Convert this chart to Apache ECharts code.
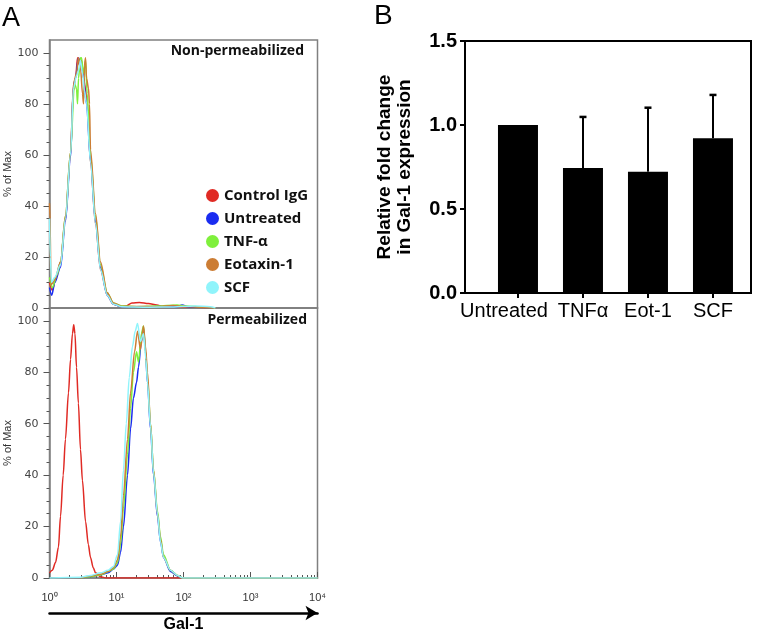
<!DOCTYPE html>
<html><head><meta charset="utf-8">
<script src="https://cdn.jsdelivr.net/npm/echarts@6/dist/echarts.min.js"></script>
<style>html,body{margin:0;padding:0;background:#fff}#c{width:762px;height:633px}</style>
</head><body><div id="c"></div><script>
// ---------- Panel A data (x = Gal-1 intensity, y = % of Max) ----------
const seriesNames = ['Control IgG', 'Untreated', 'TNF-α', 'Eotaxin-1', 'SCF'];
const seriesColors = ['#e02a24', '#1a2cf0', '#7ff03c', '#cc7d34', '#90f4fb'];

const nonPermCtrl = [[1,10],[1.1,7],[1.25,12],[1.46,18],[1.73,35],[2.06,60],[2.26,85],[2.45,90],[2.62,98],[2.8,95],[3.0,97],[3.22,90],[3.45,86],[3.65,79],[4.09,57],[4.86,33],[5.77,15],[7.27,5],[9.0,1.5],[11.5,0.5],[14,0.8],[17,2],[22,2.2],[30,1.8],[40,1.2],[50,0.5],[80,0.4],[150,0.3],[300,0]];
const nonPermUntr = [[1,8],[1.08,5],[1.2,10],[1.46,16],[1.73,34],[2.06,59],[2.28,87],[2.44,90],[2.71,98],[2.9,96],[3.11,93],[3.57,80],[4.09,58],[4.86,34],[5.77,16],[7.27,5],[9.0,1.5],[12,0.5],[20,0.3],[40,0.6],[80,0.5],[95,1.2],[120,0.4],[200,0.3],[300,0]];
const nonPermTnf = [[1,12],[1.1,8],[1.3,13],[1.46,18],[1.73,36],[2.06,61],[2.36,88],[2.53,86],[2.62,80],[2.71,90],[2.9,98],[3.0,98],[3.22,92],[3.45,97],[3.65,84],[4.09,60],[4.86,36],[5.77,17],[7.27,6],[9.0,2],[12,0.8],[20,0.5],[40,0.8],[80,1.2],[110,0.8],[200,0.3],[300,0]];
const nonPermEot = [[1,41],[1.02,35],[1.05,9],[1.2,11],[1.46,18],[1.73,36],[2.06,61],[2.28,88],[2.53,92],[2.71,98],[2.9,94],[3.11,84],[3.22,80],[3.33,95],[3.45,98],[3.57,90],[3.82,86],[3.95,80],[4.09,62],[4.86,37],[5.77,18],[7.27,6],[9.0,2],[12,0.6],[20,0.6],[40,0.5],[70,1],[100,0.6],[200,0.3],[300,0]];
const nonPermScf = [[1,35],[1.03,20],[1.07,10],[1.2,12],[1.46,17],[1.73,35],[2.06,60],[2.28,86],[2.53,91],[2.71,93],[2.9,97],[3.11,92],[3.33,85],[3.57,80],[4.09,57],[4.86,33],[5.77,15],[7.27,5],[9.0,1.5],[12,0.5],[30,0.3],[60,0.4],[150,0.8],[250,0.5],[300,0]];

const permCtrl = [[1,2],[1.1,3],[1.23,6],[1.36,12],[1.46,24],[1.6,40],[1.73,54],[1.92,72],[2.06,85],[2.2,95],[2.3,98.5],[2.4,95],[2.53,82],[2.7,68],[2.9,50],[3.1,38],[3.45,22],[3.8,13],[4.09,8],[4.5,4],[4.86,2],[5.77,0.5],[7,0],[100,0]];
const permUntr = [[2.9,0],[4.09,0.5],[5.77,1.2],[7.5,2],[9,3.5],[10.35,5],[11.5,10],[12.7,20],[14.6,40],[16.2,58],[17.9,70],[19.9,76],[21.3,82],[23.5,92],[25.3,97],[27.1,88],[29,76],[32.2,58],[35.7,40],[40.9,24],[45.4,14],[50.3,8],[64,2.5],[81.3,0.8],[96.6,0],[10000,0]];
const permTnf = [[2.9,0],[4.09,0.5],[5.77,1.2],[7.5,2.5],[9,3.5],[10.35,6],[11.5,13],[12.7,27],[14.6,48],[16.2,66],[17.9,80],[19.9,88],[21.3,84],[23.5,95],[25.3,98],[27.1,88],[29,78],[32.2,60],[35.7,42],[40.9,26],[45.4,16],[50.3,9],[64,3],[81.3,1],[96.6,0],[10000,0]];
const permEot = [[2.9,0],[4.09,0.8],[5.77,1.5],[7.5,2.5],[9,4],[10.35,7],[11.5,16],[12.7,32],[14.6,54],[16.2,72],[18.6,88],[20.6,96],[22.8,89],[25.3,98],[27.1,90],[29,80],[32.2,60],[35.7,42],[40.9,25],[45.4,15],[50.3,8],[64,3],[81.3,1],[96.6,0],[10000,0]];
const permScf = [[1,0],[2.9,0.3],[4.09,1],[5.77,2],[7.5,3],[9,4.5],[10.35,9],[11.5,22],[12.7,42],[14,60],[15.5,78],[17.3,90],[19,96],[20.6,99],[22.8,92],[25.3,95],[27.5,85],[29,76],[32.2,59],[35.7,41],[40.9,25],[45.4,14],[50.3,8],[64,3],[81.3,1],[96.6,0],[10000,0]];

const yTickValuesA = [0, 20, 40, 60, 80, 100];
const yMinorValuesA = [5,10,15,25,30,35,45,50,55,65,70,75,85,90,95];

// ---------- Panel B data ----------
const categoriesB = ['Untreated', 'TNFα', 'Eot-1', 'SCF'];
const meansB = [1.0, 0.744, 0.722, 0.921];
const errorsB = [0, 0.304, 0.381, 0.258];
const yTicksB = [0.0, 0.5, 1.0, 1.5];

// ---------- build ----------
const chart = echarts.init(document.getElementById('c'), null, {renderer: 'canvas'});
const gray = '#808080';
const fA = "'DejaVu Sans', Verdana, sans-serif";
const fB = "'Liberation Sans', Arial, sans-serif";
const fC = "'Open Sans', Lato, sans-serif";

const minorLogTicks = [];
for (let n = 0; n < 4; n++) for (let k = 2; k <= 9; k++) minorLogTicks.push(Math.log10(k * Math.pow(10, n)));

function lineSeries(name, color, data, xi, yi) {
  return {
    name, type: 'line', data, xAxisIndex: xi, yAxisIndex: yi,
    showSymbol: false, symbol: 'none', smooth: 0.3, smoothMonotone: 'x',
    lineStyle: {color, width: 1.5}, itemStyle: {color}, z: 3
  };
}

const topData = [nonPermCtrl, nonPermUntr, nonPermTnf, nonPermEot, nonPermScf];
const botData = [permCtrl, permUntr, permTnf, permEot, permScf];

const series = [];
topData.forEach((d, i) => series.push(lineSeries(seriesNames[i], seriesColors[i], d, 0, 0)));
botData.forEach((d, i) => series.push(lineSeries(seriesNames[i], seriesColors[i], d, 1, 2)));

series.push({
  type: 'bar', name: 'fold', xAxisIndex: 4, yAxisIndex: 4, barWidth: 40,
  itemStyle: {color: '#000'},
  data: meansB.map((v, i) => [i, v])
});
series.push({
  type: 'custom', name: 'err', xAxisIndex: 4, yAxisIndex: 4, z: 5,
  data: meansB.map((v, i) => [i, v, v + errorsB[i]]),
  encode: {x: 0, y: [1, 2]},
  renderItem(params, api) {
    const x = api.value(0), y0 = api.value(1), y1 = api.value(2);
    if (y1 <= y0) return null;
    const p0 = api.coord([x, y0]);
    const p1 = api.coord([x, y1]);
    return {type: 'group', children: [
      {type: 'line', shape: {x1: p0[0], y1: p0[1], x2: p1[0], y2: p1[1]}, style: {stroke: '#000', lineWidth: 2}},
      {type: 'line', shape: {x1: p1[0] - 3.5, y1: p1[1], x2: p1[0] + 3.5, y2: p1[1]}, style: {stroke: '#000', lineWidth: 2.5}}
    ]};
  }
});

function mainYA(grid) {
  return {
    gridIndex: grid, type: 'value', min: 0, max: 105, position: 'left',
    name: '% of Max', nameLocation: 'middle', nameGap: 33,
    nameTextStyle: {fontSize: 11, fontFamily: fB, color: '#333'},
    axisLine: {show: true, onZero: false, lineStyle: {color: gray, width: 1.5}},
    axisTick: {show: true, inside: false, length: 6, customValues: yTickValuesA, lineStyle: {color: '#555', width: 1}},
    axisLabel: {customValues: yTickValuesA, margin: 11, fontSize: 11, fontFamily: fA, color: '#444'},
    splitLine: {show: false}
  };
}
function minorYA(grid) {
  return {
    gridIndex: grid, type: 'value', min: 0, max: 105, position: 'left',
    axisLine: {show: false, onZero: false},
    axisTick: {show: true, inside: false, length: 3, customValues: yMinorValuesA, lineStyle: {color: '#555', width: 1}},
    axisLabel: {show: false}, splitLine: {show: false}
  };
}

const option = {
  backgroundColor: '#fff',
  animation: false,
  title: [
    {text: 'A', left: 2, top: 5, padding: 0, textStyle: {fontSize: 27, fontWeight: 'normal', fontFamily: fB, color: '#000'}},
    {text: 'B', left: 374, top: 2, padding: 0, textStyle: {fontSize: 28, fontWeight: 'normal', fontFamily: fB, color: '#000'}},
    {text: 'Non-permeabilized', right: 458, top: 44, padding: 0, textStyle: {fontSize: 14, fontWeight: 'bold', fontFamily: fC, color: '#111'}},
    {text: 'Permeabilized', right: 455, top: 313, padding: 0, textStyle: {fontSize: 14, fontWeight: 'bold', fontFamily: fC, color: '#111'}}
  ],
  legend: {
    data: seriesNames, orient: 'vertical', left: 206, top: 188, padding: 0,
    icon: 'circle', itemWidth: 13, itemHeight: 13, itemGap: 8,
    textStyle: {fontSize: 15, fontWeight: 'bold', fontFamily: fC, color: '#111', lineHeight: 13},
    selectedMode: false
  },
  grid: [
    {left: 49.5, top: 40, width: 268, height: 268, show: true, borderColor: gray, borderWidth: 1.5, outerBoundsMode: 'none'},
    {left: 49.5, top: 308, width: 268, height: 270, show: true, borderColor: gray, borderWidth: 1.5, outerBoundsMode: 'none'},
    {left: 465, top: 41, width: 286, height: 252, show: true, borderColor: '#000', borderWidth: 2, outerBoundsMode: 'none'}
  ],
  xAxis: [
    {gridIndex: 0, type: 'log', logBase: 10, min: 1, max: 10000, position: 'bottom',
     axisLine: {show: true, onZero: false, lineStyle: {color: gray, width: 1.5}}, axisTick: {show: false}, axisLabel: {show: false}, splitLine: {show: false}},
    {gridIndex: 1, type: 'log', logBase: 10, min: 1, max: 10000, interval: 1, position: 'bottom',
     axisLine: {show: true, onZero: false, lineStyle: {color: gray, width: 1.5}},
     axisTick: {show: true, inside: true, length: 6, lineStyle: {color: '#555', width: 1}},
     axisLabel: {margin: 14, fontSize: 11, fontFamily: fB, color: '#333', showMinLabel: true, showMaxLabel: true,
       formatter: v => '10' + ['⁰','¹','²','³','⁴'][Math.round(Math.log10(v))]},
     splitLine: {show: false}},
    {gridIndex: 1, type: 'value', min: 0, max: 4, position: 'bottom',
     axisLine: {show: false, onZero: false},
     axisTick: {show: true, inside: true, length: 3, customValues: minorLogTicks, lineStyle: {color: '#555', width: 1}},
     axisLabel: {show: false}, splitLine: {show: false}},
    {gridIndex: 1, type: 'value', min: 0, max: 1, position: 'bottom', offset: 35,
     axisLine: {show: true, onZero: false, symbol: ['none', 'arrow'], symbolSize: [11, 12], lineStyle: {color: '#000', width: 2.5}},
     axisTick: {show: false}, axisLabel: {show: false}, splitLine: {show: false},
     name: 'Gal-1', nameLocation: 'middle', nameGap: 4,
     nameTextStyle: {fontSize: 16, fontWeight: 'bold', fontFamily: fB, color: '#000'}},
    {gridIndex: 2, type: 'value', min: -0.815, max: 3.585, position: 'bottom',
     axisLine: {show: true, onZero: false, lineStyle: {color: '#000', width: 2}},
     axisTick: {show: true, inside: false, length: 5, customValues: [0, 1, 2, 3], lineStyle: {color: '#000', width: 2}},
     axisLabel: {customValues: [0, 1, 2, 3], margin: 8, fontSize: 20, fontFamily: fB, color: '#000',
       showMinLabel: true, showMaxLabel: true, hideOverlap: false,
       formatter: v => Math.round(v) === 0 ? '{u|' + categoriesB[0] + '}' : categoriesB[Math.round(v)],
       rich: {u: {fontSize: 20, fontFamily: fB, color: '#000', padding: [0, 28, 0, 0]}}},
     splitLine: {show: false}}
  ],
  yAxis: [
    mainYA(0), minorYA(0), mainYA(1), minorYA(1),
    {gridIndex: 2, type: 'value', min: 0, max: 1.5, interval: 0.5, position: 'left',
     name: 'Relative fold change\nin Gal-1 expression', nameLocation: 'middle', nameGap: 50,
     nameTextStyle: {fontSize: 19, fontWeight: 'bold', fontFamily: fB, color: '#000', lineHeight: 20},
     axisLine: {show: true, onZero: false, lineStyle: {color: '#000', width: 2}},
     axisTick: {show: true, inside: false, length: 5, lineStyle: {color: '#000', width: 2}},
     axisLabel: {customValues: yTicksB, margin: 8, fontSize: 20, fontWeight: 'bold', fontFamily: fB, color: '#000',
       formatter: v => v.toFixed(1)},
     splitLine: {show: false}}
  ],
  series
};
chart.setOption(option);
</script></body></html>
